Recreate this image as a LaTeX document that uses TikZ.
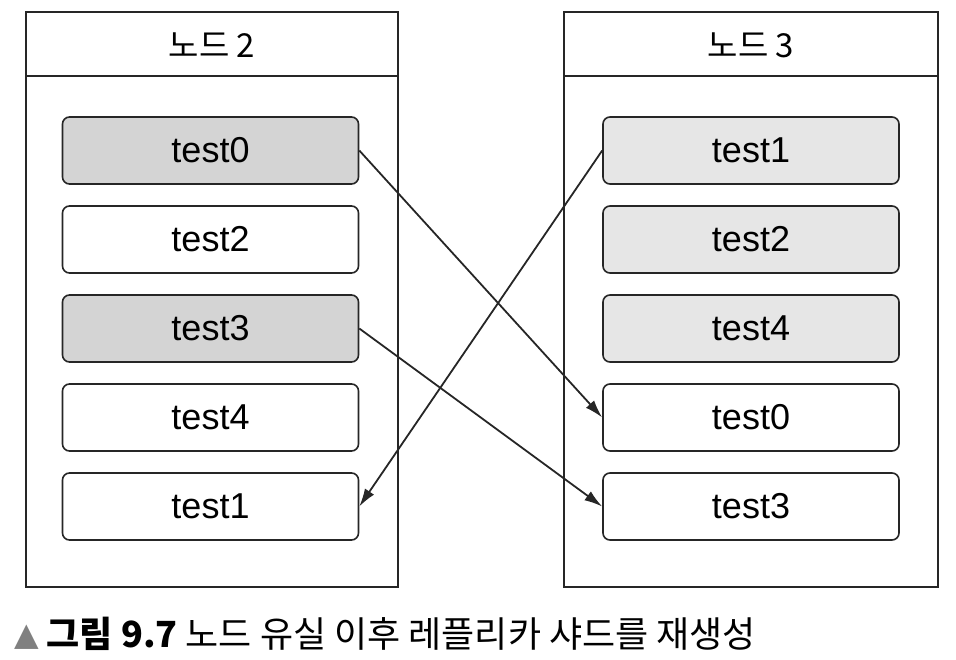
\documentclass[tikz,border=0pt]{standalone}
\usepackage{fontspec}
\setmainfont{Liberation Sans}
\newfontfamily\krfont{Noto Sans CJK KR}
\newfontfamily\symfont{DejaVu Sans}
\usetikzlibrary{arrows.meta}
\usetikzlibrary{positioning}
\usepackage{xcolor}
\definecolor{darkfill}{HTML}{D4D4D4}
\definecolor{lightfill}{HTML}{E6E6E6}
\definecolor{linegrey}{HTML}{262626}

\begin{document}
\begin{tikzpicture}[
        node distance=20.4pt,
        panel/.style={rectangle, draw=linegrey, line width=1.6pt,
          minimum height=575pt, inner sep=0pt},
        title/.style={font=\krfont\fontsize{33}{36}\selectfont},
        shard/.style={rectangle, draw=linegrey, fill=white, line width=1.6pt,
          minimum width=296pt, minimum height=67pt,
          rounded corners=7pt, align=center,
          font=\fontsize{36}{40}\selectfont},
        arrow/.style={-{Latex[length=18pt,width=11pt]}, line width=1.8pt, draw=linegrey},
      ]
        \useasboundingbox (0,0) rectangle (956pt,-660pt);

        % panels
        \node[panel, minimum width=372pt] (node2) at (212pt,-299.5pt) {};
        \node[panel, minimum width=374pt] (node3) at (751pt,-299.5pt) {};
        \draw[line width=1.6pt, linegrey] ([yshift=-65pt]node2.north west) -- ([yshift=-65pt]node2.north east);
        \draw[line width=1.6pt, linegrey] ([yshift=-65pt]node3.north west) -- ([yshift=-65pt]node3.north east);
        \node[title] (title2) at (212pt,-45pt) {노드 2};
        \node[title] (title3) at (751pt,-45pt) {노드 3};

        % node 2 shards
        \node[shard, fill=darkfill] (a0) at (210.5pt,-150.5pt) {test0};
        \node[shard, below=of a0] (a2) {test2};
        \node[shard, below=of a2, fill=darkfill] (a3) {test3};
        \node[shard, below=of a3] (a4) {test4};
        \node[shard, below=of a4] (a1) {test1};

        % node 3 shards
        \node[shard, fill=lightfill] (b1) at (751pt,-150.5pt) {test1};
        \node[shard, below=of b1, fill=lightfill] (b2) {test2};
        \node[shard, below=of b2, fill=lightfill] (b4) {test4};
        \node[shard, below=of b4] (b0) {test0};
        \node[shard, below=of b0] (b3) {test3};

        \draw[arrow] (a0.east) -- (b0.west);
        \draw[arrow] (a3.east) -- (b3.west);
        \draw[arrow] (b1.west) -- (a1.east);

        % caption
        \node[anchor=west, inner sep=0pt, font=\krfont\fontsize{36}{40}\selectfont] (caption) at (14pt,-634pt)
          {\raisebox{2pt}{\symfont\color{gray}\fontsize{32}{34}\selectfont ▲}\hspace{8pt}{\bfseries 그림 9.7} 노드 유실 이후 레플리카 샤드를 재생성};
      \end{tikzpicture}
\end{document}
